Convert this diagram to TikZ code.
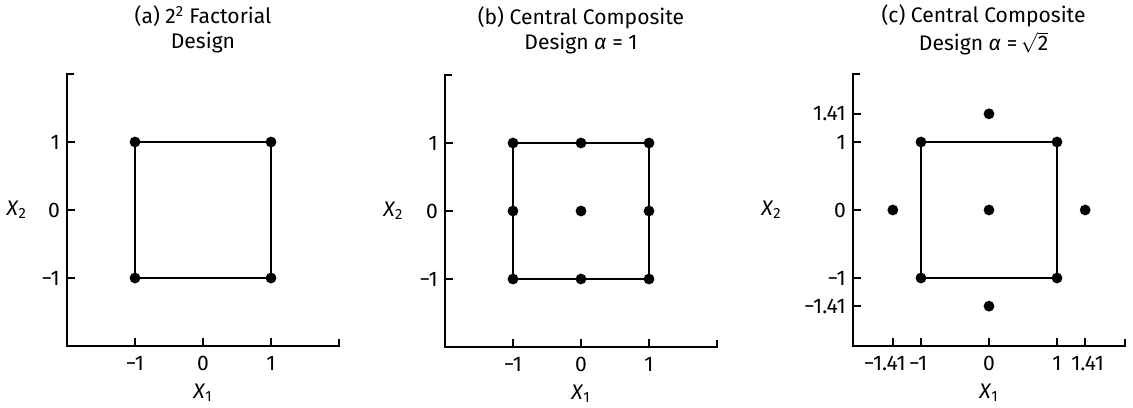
\documentclass[tikz,border=0pt]{standalone}
\usepackage{fontspec}
\setmainfont{Fira Sans}
\usetikzlibrary{positioning}

\begin{document}
\begin{tikzpicture}[x=0.025cm, y=0.025cm,
  pt/.style={circle, fill=black, inner sep=0pt, minimum size=0.27cm},
  axis/.style={line width=1.2pt},
  sq/.style={line width=1.1pt},
  lbl/.style={font=\fontsize{15}{17.8}\selectfont, inner sep=1pt},
]
\useasboundingbox (0,0) rectangle (1133,408);

% (a) factorial design
\begin{scope}[shift={(203,198)}, x=1.7cm, y=1.7cm]
  \coordinate (a-top) at (-2,2);
  \coordinate (a-org) at (-2,-2);
  \coordinate (a-end) at (2,-2);
  \draw[axis] ([xshift=0.18cm]a-top) -- (a-top) -- (a-org) -- (a-end) -- ([yshift=0.18cm]a-end);
  \foreach \v/\t in {-1/−1, 0/0, 1/1} {
    \draw[axis] (-2,\v) -- ++(0.2cm,0);
    \draw[axis] (\v,-2) -- ++(0,0.2cm);
    \node[lbl, anchor=east] (a-y\v) at (-2.08,\v) {\t};
    \node[lbl] (a-x\v) at (\v,-2.25) {\t};
  }
  \node[lbl] (a-xlab) at (0,-2.68) {\textit{X}\textsubscript{1}};
  \node[lbl] (a-ylab) at (-2.74,0) {\textit{X}\textsubscript{2}};
  \node[lbl, align=center] (a-title) at (0,2.65) {(a) 2\textsuperscript{2} Factorial\\Design};
  \foreach \x/\y [count=\i] in {-1/-1, 1/-1, 1/1, -1/1}
    \node[pt] (a-p\i) at (\x,\y) {};
  \draw[sq] (a-p1.center) -- (a-p2.center) -- (a-p3.center) -- (a-p4.center) -- cycle;
\end{scope}

% (b) central composite, alpha = 1
\begin{scope}[shift={(581,197)}, x=1.7cm, y=1.7cm]
  \coordinate (b-top) at (-2,2);
  \coordinate (b-org) at (-2,-2);
  \coordinate (b-end) at (2,-2);
  \draw[axis] ([xshift=0.18cm]b-top) -- (b-top) -- (b-org) -- (b-end) -- ([yshift=0.18cm]b-end);
  \foreach \v/\t in {-1/−1, 0/0, 1/1} {
    \draw[axis] (-2,\v) -- ++(0.2cm,0);
    \draw[axis] (\v,-2) -- ++(0,0.2cm);
    \node[lbl, anchor=east] (b-y\v) at (-2.08,\v) {\t};
    \node[lbl] (b-x\v) at (\v,-2.25) {\t};
  }
  \node[lbl] (b-xlab) at (0,-2.68) {\textit{X}\textsubscript{1}};
  \node[lbl] (b-ylab) at (-2.76,0) {\textit{X}\textsubscript{2}};
  \node[lbl, align=center] (b-title) at (0,2.65) {(b) Central Composite\\Design \textit{α} = 1};
  \foreach \x/\y [count=\i] in {-1/-1, 1/-1, 1/1, -1/1}
    \node[pt] (b-p\i) at (\x,\y) {};
  \foreach \x/\y [count=\i] in {0/-1, 1/0, 0/1, -1/0, 0/0}
    \node[pt] (b-q\i) at (\x,\y) {};
  \draw[sq] (b-p1.center) -- (b-p2.center) -- (b-p3.center) -- (b-p4.center) -- cycle;
\end{scope}

% (c) central composite, alpha = sqrt 2
\begin{scope}[shift={(989,198)}, x=1.7cm, y=1.7cm]
  \coordinate (c-top) at (-2,2);
  \coordinate (c-org) at (-2,-2);
  \coordinate (c-end) at (2,-2);
  \draw[axis] ([xshift=0.18cm]c-top) -- (c-top) -- (c-org) -- (c-end) -- ([yshift=0.18cm]c-end);
  \foreach \v/\t in {-1.414/−1.41, -1/−1, 0/0, 1/1, 1.414/1.41} {
    \draw[axis] (-2,\v) -- ++(0.2cm,0);
    \draw[axis] (\v,-2) -- ++(0,0.2cm);
    \node[lbl, anchor=east] at (-2.08,\v) {\t};
  }
  \node[lbl, anchor=east] (c-xa) at (-1.2,-2.25) {−1.41};
  \node[lbl, anchor=west] (c-xb) at (c-xa.east) {−1};
  \node[lbl] (c-xc) at (0,-2.25) {0};
  \node[lbl] (c-xd) at (1,-2.25) {1};
  \node[lbl] (c-xe) at (1.45,-2.25) {1.41};
  \node[lbl] (c-xlab) at (0,-2.68) {\textit{X}\textsubscript{1}};
  \node[lbl] (c-ylab) at (-3.2,0) {\textit{X}\textsubscript{2}};
  \node[lbl] (c-title1) at (-0.08,2.86) {(c) Central Composite};
  \node[lbl, below=1.5pt of c-title1] (c-title2) {Design \textit{α} =\,$\sqrt{\mbox{2}}$};
  \foreach \x/\y [count=\i] in {-1/-1, 1/-1, 1/1, -1/1}
    \node[pt] (c-p\i) at (\x,\y) {};
  \foreach \x/\y [count=\i] in {0/-1.414, 1.414/0, 0/1.414, -1.414/0, 0/0}
    \node[pt] (c-q\i) at (\x,\y) {};
  \draw[sq] (c-p1.center) -- (c-p2.center) -- (c-p3.center) -- (c-p4.center) -- cycle;
\end{scope}
\end{tikzpicture}
\end{document}
